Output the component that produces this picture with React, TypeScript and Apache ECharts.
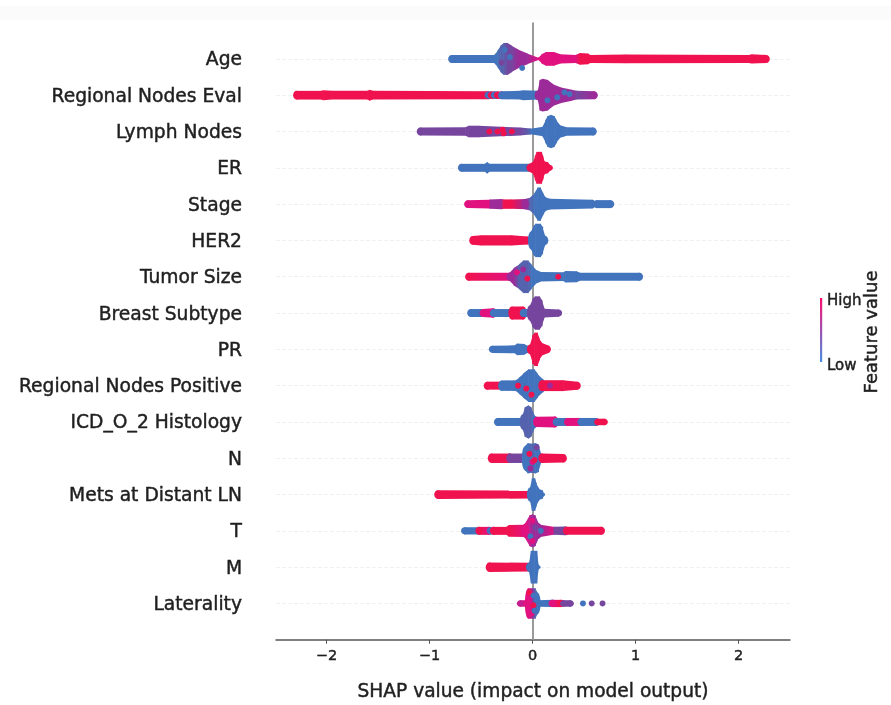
import React, { useEffect, useRef } from "react";
import * as echarts from "echarts";

const R = 0, K = 1, M = 2, V = 3, P = 4, I = 5, B = 6;
const palette = ["#f0124f", "#e1127f", "#c41d90", "#9c2a98", "#76469f", "#5563ae", "#4273bd"];

type Station = [number, number, number]; // SHAP value, half spread in rows, colour
type Speck = [number, number, number]; // SHAP value, row offset, colour

const features = ["Age", "Regional Nodes Eval", "Lymph Nodes", "ER", "Stage", "HER2", "Tumor Size", "Breast Subtype", "PR", "Regional Nodes Positive", "ICD_O_2 Histology", "N", "Mets at Distant LN", "T", "M", "Laterality"];
const xTicks = [-2, -1, 0, 1, 2];

const age: Station[][] = [
  [[-0.785, .11, B], [-0.37, .11, B], [-0.34, .22, B], [-0.31, .36, I], [-0.28, .44, I], [-0.24, .44, P], [-0.2, .36, P], [-0.14, .26, V], [-0.05, .15, V], [0.055, .03, K]],
  [[0.06, .03, K], [0.09, .13, K], [0.13, .19, K], [0.21, .19, K], [0.27, .13, K], [0.42, .11, K], [0.46, .16, R], [0.54, .15, R], [0.56, .11, R], [0.9, .12, R], [2.1, .11, R], [2.13, .13, R], [2.27, .11, R]],
];
const ageSpecks: Speck[] = [[-0.27, .25, B], [-0.22, .05, B], [-0.1, -.25, B], [-0.3, -.1, P]];

const nodesEval: Station[][] = [
  [[-2.29, .12, R], [-2.05, .12, R], [-2.03, .14, R], [-1.95, .12, R], [-1.6, .12, R], [-1.58, .15, R], [-1.55, .12, R], [-0.43, .11, R]],
  [[-0.43, .1, B], [-0.4, .1, B]],
  [[-0.4, .1, R], [-0.37, .1, R]],
  [[-0.37, .1, B], [-0.34, .1, B]],
  [[-0.34, .1, R], [-0.3, .1, R]],
  [[-0.3, .11, B], [-0.12, .12, B], [-0.09, .14, B], [0.055, .12, B]],
  [[0.055, .14, V], [0.07, .42, V], [0.1, .45, V], [0.15, .42, V], [0.2, .3, V], [0.27, .22, V], [0.38, .15, V], [0.43, .12, P], [0.6, .11, V]],
];
const nodesEvalSpecks: Speck[] = [[0.145, -.14, B], [0.24, -.06, B], [0.31, .08, B], [0.36, .03, B]];

const lymphNodes: Station[][] = [
  [[-1.09, .11, P], [-0.65, .12, P], [-0.62, .16, P], [-0.52, .16, P], [-0.12, .11, P], [-0.02, .08, I]],
  [[0.0, .08, B], [0.1, .13, B], [0.125, .3, B], [0.145, .42, B], [0.18, .46, B], [0.215, .42, B], [0.235, .3, B], [0.265, .18, B], [0.33, .12, B], [0.59, .11, B]],
];
const lymphSpecks: Speck[] = [[-0.42, 0, R], [-0.34, 0, R], [-0.29, .05, R], [-0.28, -.05, R], [-0.2, 0, R]];

const er: Station[][] = [
  [[-0.69, .11, B], [-0.46, .11, B], [-0.44, .16, B], [-0.42, .11, B], [-0.025, .11, B]],
  [[-0.025, .11, R], [0.01, .18, R], [0.025, .32, R], [0.04, .44, R], [0.09, .44, R], [0.105, .3, R], [0.115, .18, R], [0.15, .15, R], [0.17, .08, R]],
];

const stage: Station[][] = [
  [[-0.63, .11, K], [-0.42, .12, K], [-0.41, .13, V], [-0.3, .14, V], [-0.28, .13, R], [-0.2, .13, R], [-0.07, .14, V]],
  [[-0.07, .14, V], [-0.02, .18, I], [0.02, .3, B], [0.05, .46, B], [0.08, .46, B], [0.11, .26, B], [0.13, .18, B], [0.17, .15, B], [0.58, .12, B]],
  [[0.62, .11, B], [0.76, .11, B]],
];

const her2: Station[][] = [
  [[-0.58, .12, R], [-0.5, .14, R], [-0.2, .14, R], [-0.05, .11, R]],
  [[-0.01, .25, B], [0.01, .4, B], [0.03, .46, B], [0.08, .46, B], [0.1, .36, B], [0.12, .13, B]],
];

const tumorSize: Station[][] = [
  [[-0.62, .11, R], [-0.22, .11, K]],
  [[-0.22, .11, V], [-0.18, .24, V], [-0.13, .34, I], [-0.09, .45, I], [-0.04, .45, I], [-0.01, .34, B], [0.03, .2, B], [0.08, .13, B], [0.3, .12, B], [0.32, .16, B], [0.43, .15, B], [0.46, .11, B], [1.04, .11, B]],
];
const tumorSpecks: Speck[] = [[0.25, 0, R], [-0.15, .12, K], [-0.05, -.05, R], [-0.09, .2, V]];

const breastSubtype: Station[][] = [
  [[-0.6, .11, B], [-0.48, .11, B]],
  [[-0.48, .11, K], [-0.38, .13, K]],
  [[-0.38, .11, B], [-0.2, .11, B]],
  [[-0.2, .18, R], [-0.09, .18, R]],
  [[-0.09, .11, B], [-0.02, .11, B]],
  [[-0.02, .22, P], [0.0, .38, P], [0.025, .46, P], [0.07, .46, P], [0.095, .34, P], [0.115, .12, P], [0.254, .1, P]],
];

const pr: Station[][] = [
  [[-0.39, .1, B], [-0.17, .11, B], [-0.15, .16, B], [-0.08, .15, B], [-0.05, .1, B], [-0.02, .1, B]],
  [[-0.02, .14, R], [0.0, .38, R], [0.02, .46, R], [0.05, .46, R], [0.07, .28, R], [0.09, .18, R], [0.145, .11, R]],
];

const nodesPositive: Station[][] = [
  [[-0.44, .11, R], [-0.3, .11, R]],
  [[-0.3, .14, B], [-0.16, .15, B], [-0.13, .22, B], [-0.09, .33, B], [-0.04, .45, B], [0.02, .45, B], [0.05, .33, B], [0.09, .2, B]],
  [[0.09, .15, R], [0.3, .15, R], [0.435, .11, R]],
];
const nodesPositiveSpecks: Speck[] = [[-0.06, -.08, R], [-0.01, -.25, R], [-0.14, 0, R], [0.17, 0, V]];

const histology: Station[][] = [
  [[-0.34, .11, B], [-0.09, .11, B]],
  [[-0.09, .22, I], [-0.075, .4, I], [-0.04, .46, I], [-0.01, .4, I], [0.02, .17, B]],
  [[0.04, .14, K], [0.22, .15, K]],
  [[0.23, .11, B], [0.33, .11, B]],
  [[0.34, .11, K], [0.47, .11, K]],
  [[0.47, .11, B], [0.62, .11, B]],
  [[0.63, .09, R], [0.7, .09, R]],
];

const nStage: Station[][] = [
  [[-0.4, .13, R], [-0.22, .13, R]],
  [[-0.22, .13, P], [-0.09, .13, P]],
  [[-0.07, .34, B], [-0.045, .42, B], [-0.01, .4, I], [0.03, .42, B], [0.06, .38, B], [0.08, .13, B]],
  [[0.09, .13, R], [0.3, .12, R]],
];
const nSpecks: Speck[] = [[-0.02, -.28, V], [0.0, -.1, K], [-0.03, .12, R], [0.02, -.05, R], [0.04, .3, P]];

const metsLN: Station[][] = [
  [[-0.92, .12, R], [-0.02, .11, R]],
  [[-0.02, .2, B], [-0.005, .45, B], [0.025, .45, B], [0.04, .3, B], [0.065, .15, B], [0.1, .11, B], [0.105, .05, B]],
];

const tStage: Station[][] = [
  [[-0.66, .1, B], [-0.52, .1, B]],
  [[-0.52, .11, R], [-0.42, .11, K]],
  [[-0.41, .1, B], [-0.38, .1, B]],
  [[-0.38, .11, R], [-0.25, .11, R], [-0.23, .16, R], [-0.07, .17, K]],
  [[-0.07, .2, K], [-0.03, .42, M], [0.0, .46, V], [0.03, .42, V], [0.05, .25, V], [0.08, .17, V], [0.2, .11, K], [0.21, .11, P], [0.32, .12, P]],
  [[0.33, .11, R], [0.67, .11, R]],
];
const tSpecks: Speck[] = [[0.0, .28, K], [-0.02, -.15, B], [0.0, -.28, K], [0.03, .08, P], [0.08, .0, B]];

const m: Station[][] = [
  [[-0.42, .13, R], [-0.03, .12, R]],
  [[-0.03, .13, B], [-0.015, .45, B], [0.02, .45, B], [0.045, .45, B], [0.055, .1, B], [0.065, .04, B]],
];

const laterality: Station[][] = [
  [[-0.12, .09, M], [-0.05, .09, K]],
  [[-0.04, .42, K], [-0.005, .42, V], [0.03, .42, I], [0.045, .3, B]],
  [[0.05, .09, B], [0.2, .1, B]],
  [[0.19, .1, K], [0.28, .1, R]],
  [[0.3, .09, P], [0.37, .09, P]],
];
const lateralitySpecks: Speck[] = [[0.49, 0, B], [0.575, 0, P], [0.68, 0, P], [-0.03, .3, R], [0.01, -.05, R], [-0.01, -.28, K], [0.01, .22, B], [0.02, -.2, B]];

const rowRuns = [age, nodesEval, lymphNodes, er, stage, her2, tumorSize, breastSubtype, pr, nodesPositive, histology, nStage, metsLN, tStage, m, laterality];
const rowSpecks: Speck[][] = [ageSpecks, nodesEvalSpecks, lymphSpecks, [], [], [], tumorSpecks, [], [], nodesPositiveSpecks, [], nSpecks, [], tSpecks, [], lateralitySpecks];

const rowValue = (i: number) => features.length - 1 - i;

const segments: number[][] = [];
rowRuns.forEach((runs, i) =>
  runs.forEach((run) =>
    run.slice(0, -1).forEach((s, k) => {
      const e = run[k + 1];
      segments.push([rowValue(i), s[0], s[1], s[2], e[0], e[1], e[2], k === 0 ? 1 : 0, k === run.length - 2 ? 1 : 0]);
    })
  )
);
const speckData: number[][] = [];
rowSpecks.forEach((list, i) => list.forEach((s) => speckData.push([s[0], rowValue(i) + s[1], s[2]])));

const FONT = "DejaVu Sans";
const TEXT = "#1f1f1f";
const heavy = { textBorderColor: TEXT, textBorderWidth: 0.45 };

function renderSegment(_: any, api: any) {
  const y = api.value(0);
  const x0 = api.value(1), h0 = api.value(2), c0 = palette[api.value(3)];
  const x1 = api.value(4), h1 = api.value(5), c1 = palette[api.value(6)];
  const a = api.coord([x0, y + h0]), b = api.coord([x1, y + h1]);
  const c = api.coord([x1, y - h1]), d = api.coord([x0, y - h0]);
  const fill = c0 === c1 ? c0 : new echarts.graphic.LinearGradient(0, 0, 1, 0, [{ offset: 0, color: c0 }, { offset: 1, color: c1 }]);
  const children: any[] = [{
    type: "polygon",
    shape: { points: [[a[0] - 0.3, a[1]], [b[0] + 0.3, b[1]], [c[0] + 0.3, c[1]], [d[0] - 0.3, d[1]]] },
    style: { fill },
  }];
  if (api.value(7)) {
    const ry = (d[1] - a[1]) / 2;
    children.push({ type: "ellipse", shape: { cx: a[0], cy: (a[1] + d[1]) / 2, rx: Math.min(ry, 3.5), ry }, style: { fill: c0 } });
  }
  if (api.value(8)) {
    const ry = (c[1] - b[1]) / 2;
    children.push({ type: "ellipse", shape: { cx: b[0], cy: (b[1] + c[1]) / 2, rx: Math.min(ry, 3.5), ry }, style: { fill: c1 } });
  }
  return { type: "group", children };
}

export default function App() {
  const ref = useRef<HTMLDivElement>(null);
  useEffect(() => {
    const chart = echarts.init(ref.current!, undefined, { renderer: "svg" });
    chart.setOption({
      animation: false,
      backgroundColor: "#ffffff",
      textStyle: { fontFamily: FONT },
      grid: { left: 276, right: 101, top: 22.6, bottom: 65 },
      xAxis: {
        type: "value",
        min: -2.49,
        max: 2.5,
        axisLine: { show: true, onZero: false, lineStyle: { color: "#555555", width: 1.5 } },
        axisTick: { show: true, customValues: xTicks, length: 4, lineStyle: { color: "#555555" } },
        axisLabel: { customValues: xTicks, color: TEXT, fontSize: 14.5, margin: 8, fontFamily: FONT, ...heavy, formatter: (v: number) => String(v).replace("-", "\u2212") },
        splitLine: { show: false },
        name: "SHAP value (impact on model output)",
        nameLocation: "center",
        nameGap: 41,
        nameTextStyle: { color: TEXT, fontSize: 18.6, fontFamily: FONT, ...heavy },
      },
      yAxis: {
        type: "value",
        min: -1,
        max: 16,
        interval: 1,
        axisLine: { show: false },
        axisTick: { show: false },
        axisLabel: { color: TEXT, fontSize: 18.7, margin: 34, padding: [2, 0, 0, 0], fontFamily: FONT, ...heavy, formatter: (v: number) => features[features.length - 1 - v] ?? "" },
        splitLine: { show: true, showMinLine: false, showMaxLine: false, lineStyle: { color: "#f1f1f1", type: "dashed", width: 1 } },
      },
      series: [
        {
          type: "custom",
          name: "swarm",
          renderItem: renderSegment,
          data: segments,
          encode: { x: [1, 4], y: 0 },
          z: 3,
          silent: true,
          markLine: {
            silent: true,
            symbol: "none",
            z: 1,
            label: { show: false },
            lineStyle: { color: "#9a9a9a", width: 2, type: "solid" },
            data: [{ xAxis: 0 }],
          },
        },
        {
          type: "scatter",
          name: "specks",
          data: speckData,
          symbolSize: 6,
          z: 4,
          silent: true,
          itemStyle: { opacity: 1, color: (p: any) => palette[p.value[2]] },
        },
      ],
      graphic: [
        { type: "rect", z: -1, shape: { x: 0, y: 6, width: 891, height: 14 }, style: { fill: "#fafbfa" } },
        {
          type: "rect",
          shape: { x: 820, y: 298, width: 2.2, height: 64 },
          style: { fill: new echarts.graphic.LinearGradient(0, 0, 0, 1, [{ offset: 0, color: "#ff0d6e" }, { offset: 0.5, color: "#a050b0" }, { offset: 1, color: "#4a90e2" }]) },
        },
        { type: "text", x: 827, y: 300, style: { text: "High", fontSize: 15, fontFamily: FONT, fill: TEXT, stroke: TEXT, lineWidth: 0.45, verticalAlign: "middle" } },
        { type: "text", x: 827, y: 365, style: { text: "Low", fontSize: 15, fontFamily: FONT, fill: TEXT, stroke: TEXT, lineWidth: 0.45, verticalAlign: "middle" } },
        { type: "text", x: 870, y: 332, rotation: Math.PI / 2, style: { text: "Feature value", fontSize: 18, fontFamily: FONT, fill: TEXT, stroke: TEXT, lineWidth: 0.45, align: "center", verticalAlign: "middle" } },
      ],
    });
    return () => chart.dispose();
  }, []);
  return <div ref={ref} style={{ position: "absolute", left: 0, top: 0, width: 891, height: 705, filter: "blur(0.6px)" }} />;
}
